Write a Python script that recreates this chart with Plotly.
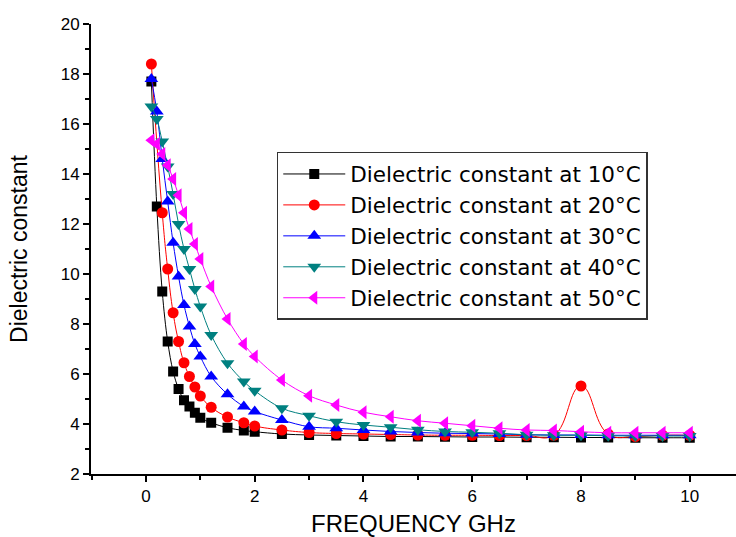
import plotly.graph_objects as go

freq = [0.1, 0.2, 0.3, 0.4, 0.5, 0.6, 0.7, 0.8, 0.9, 1.0, 1.2, 1.5, 1.8, 2.0, 2.5,
        3.0, 3.5, 4.0, 4.5, 5.0, 5.5, 6.0, 6.5, 7.0, 7.5, 8.0, 8.5, 9.0, 9.5, 10.0]

eps_10C = [17.7, 12.7, 9.3, 7.3, 6.1, 5.4, 4.95, 4.7, 4.45, 4.25, 4.05, 3.85, 3.74, 3.69, 3.6,
           3.56, 3.54, 3.52, 3.5, 3.5, 3.49, 3.48, 3.48, 3.47, 3.47, 3.46, 3.46, 3.45, 3.45, 3.45]
eps_20C = [18.4, None, 12.45, 10.2, 8.45, 7.3, 6.45, 5.9, 5.48, 5.12, 4.67, 4.28, 4.05, 3.92, 3.76,
           3.66, 3.62, 3.6, 3.58, 3.56, 3.55, 3.55, 3.54, 3.54, 3.55, 5.52, 3.6, 3.5, 3.55, 3.55]
eps_30C = [17.8, 16.5, 14.6, 12.9, 11.25, 9.9, 8.76, 7.9, 7.2, 6.7, 5.9, 5.19, 4.7, 4.5, 4.16,
           3.89, 3.83, 3.76, 3.7, 3.66, 3.63, 3.62, 3.6, 3.57, 3.56, 3.56, 3.55, 3.55, 3.55, 3.55]
eps_40C = [16.7, 16.2, 15.3, 14.3, 13.2, 12.0, 11.0, 10.2, 9.4, 8.7, 7.56, 6.43, 5.7, 5.33, 4.63,
           4.33, 4.09, 3.96, 3.87, 3.77, 3.7, 3.67, 3.63, 3.57, 3.55, 3.55, 3.53, 3.52, 3.52, 3.52]
eps_50C = [15.35, 15.2, 14.8, 14.35, 13.8, 13.15, 12.45, 11.8, 11.2, 10.6, 9.5, 8.2, 7.2, 6.7, 5.76,
           5.13, 4.76, 4.47, 4.29, 4.13, 4.03, 3.93, 3.83, 3.76, 3.74, 3.69, 3.65, 3.65, 3.65, 3.65]

names = ["Dielectric constant at 10°C", "Dielectric constant at 20°C",
         "Dielectric constant at 30°C", "Dielectric constant at 40°C",
         "Dielectric constant at 50°C"]
series = [eps_10C, eps_20C, eps_30C, eps_40C, eps_50C]
colors = ["#000000", "#FF0000", "#0000FF", "#008080", "#FF00FF"]
symbols = ["square", "circle", "triangle-up", "triangle-down", "triangle-left"]
sizes = [10, 11, 12, 12, 12]
smooth = [1.0, 1.3, 1.0, 1.0, 1.0]

FONT = "Liberation Sans, Arial, sans-serif"
LEGEND_FONT = "DejaVu Sans, Liberation Sans, sans-serif"

fig = go.Figure()
for nm, ys, c, s, sz, sm in zip(names, series, colors, symbols, sizes, smooth):
    fig.add_trace(go.Scatter(
        x=freq, y=ys, name=nm, mode="lines+markers", connectgaps=True,
        line=dict(color=c, width=1, shape="spline", smoothing=sm),
        marker=dict(symbol=s, size=sz, color=c, line=dict(width=0)),
    ))

fig.update_layout(
    width=736, height=537,
    margin=dict(l=91, r=0, t=24, b=63, autoexpand=False),
    paper_bgcolor="white", plot_bgcolor="white",
    font=dict(family=FONT, color="black"),
    showlegend=True,
    legend=dict(
        x=0.288, y=0.7156, xanchor="left", yanchor="top",
        bordercolor="#333333", borderwidth=1.5, bgcolor="white",
        font=dict(family=LEGEND_FONT, size=21.5, color="black"),
        itemwidth=62, tracegroupgap=0,
    ),
)
fig.update_xaxes(
    range=[-1.01, 10.85], showgrid=False, zeroline=False, automargin=False,
    showline=True, linecolor="black", linewidth=2,
    ticks="outside", ticklen=6, tickwidth=2, tickcolor="black",
    tick0=0, dtick=2, tickfont=dict(family=FONT, size=17, color="black"),
    minor=dict(ticks="outside", ticklen=4, tickwidth=2, tickcolor="black", tick0=0, dtick=1),
    title=dict(text="FREQUENCY GHz", font=dict(family=FONT, size=24, color="black"), standoff=12),
)
fig.update_yaxes(
    range=[2, 20], showgrid=False, zeroline=False, automargin=False,
    showline=True, linecolor="black", linewidth=2,
    ticks="outside", ticklen=6, tickwidth=2, tickcolor="black",
    tick0=2, dtick=2, tickfont=dict(family=FONT, size=17, color="black"),
    minor=dict(ticks="outside", ticklen=4, tickwidth=2, tickcolor="black", tick0=2, dtick=1),
    title=dict(text="Dielectric constant", font=dict(family=FONT, size=23, color="black"), standoff=27),
)

fig.write_html("out.html", config={"displayModeBar": False},
               post_script="document.body.style.margin='0';")
